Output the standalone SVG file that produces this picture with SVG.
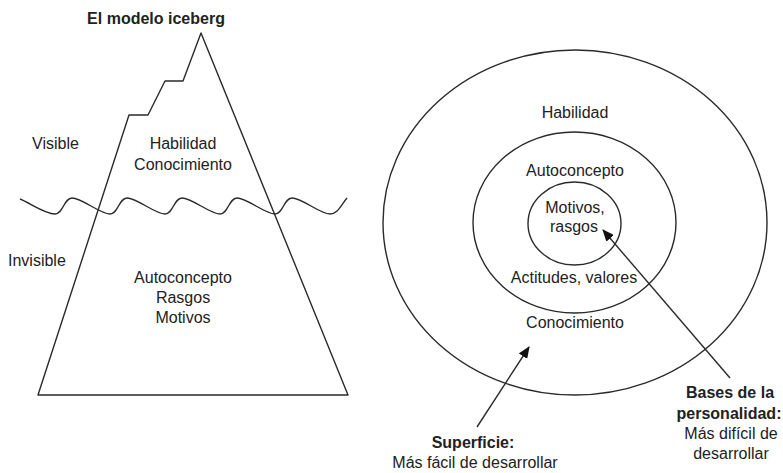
<svg xmlns="http://www.w3.org/2000/svg" width="783" height="473" viewBox="0 0 783 473">
<style>
  .ln { fill: none; stroke: #2a2a2a; stroke-width: 1.4; stroke-linejoin: round; }
  .t { font-family: "Liberation Sans", Arial, sans-serif; font-size: 16px; fill: #222; text-anchor: middle; }
  .s { text-anchor: start; }
  .b { font-weight: bold; }
</style>
<defs>
  <marker id="ah" viewBox="0 0 12 10" refX="11" refY="5" markerWidth="12" markerHeight="10" markerUnits="userSpaceOnUse" orient="auto">
    <path d="M0,0 L12,5 L0,10 Z" fill="#111"/>
  </marker>
</defs>
<rect width="783" height="473" fill="#fff"/>

<g id="iceberg">
  <text class="t b" x="156" y="24">El modelo iceberg</text>
  <path class="ln" d="M38,395 L129,115 L148,115 L165,81 L183,81 L201,33 L348,395 Z"/>
  <path id="water" class="ln" d="M20,199 C30,203 45,214 55,214 C63,214 64,198 72,198 C82,198 100,214 110,214 C118,214 119,198 127,198 C137,198 155,214 165,214 C173,214 174,198 182,198 C192,198 210,214 220,214 C228,214 229,198 237,198 C247,198 265,214 275,214 C283,214 284,198 292,198 C302,198 320,214 330,214 C338,214 341,205 347,198"/>
  <text class="t s" x="32" y="149">Visible</text>
  <text class="t s" x="8" y="266">Invisible</text>
  <text class="t" x="183" y="149">Habilidad</text>
  <text class="t" x="183" y="170">Conocimiento</text>
  <text class="t" x="183" y="283">Autoconcepto</text>
  <text class="t" x="183" y="303">Rasgos</text>
  <text class="t" x="183" y="323">Motivos</text>
</g>

<g id="outer-circle">
  <ellipse class="ln" cx="575" cy="222.5" rx="192" ry="172.5"/>
  <text class="t" x="575" y="118">Habilidad</text>
  <text class="t" x="575" y="328">Conocimiento</text>
</g>
<g id="middle-circle">
  <ellipse class="ln" cx="574.5" cy="222.5" rx="101.5" ry="90.5"/>
  <text class="t" x="575" y="176">Autoconcepto</text>
  <text class="t" x="574" y="283">Actitudes, valores</text>
</g>
<g id="inner-circle">
  <ellipse class="ln" cx="574.5" cy="223.5" rx="46.5" ry="41.5"/>
  <text class="t" x="575" y="213">Motivos,</text>
  <text class="t" x="574" y="232">rasgos</text>
</g>

<g id="connectors">
  <line class="ln" x1="477" y1="427" x2="529" y2="347" marker-end="url(#ah)"/>
  <line class="ln" x1="730" y1="378" x2="603" y2="230" marker-end="url(#ah)"/>
</g>

<g id="superficie">
  <text class="t b" x="473" y="448">Superficie:</text>
  <text class="t" x="475" y="468">Más fácil de desarrollar</text>
</g>
<g id="bases">
  <text class="t b" x="730" y="398">Bases de la</text>
  <text class="t b" x="729" y="419">personalidad:</text>
  <text class="t" x="731" y="439">Más difícil de</text>
  <text class="t" x="731" y="459">desarrollar</text>
</g>
</svg>
